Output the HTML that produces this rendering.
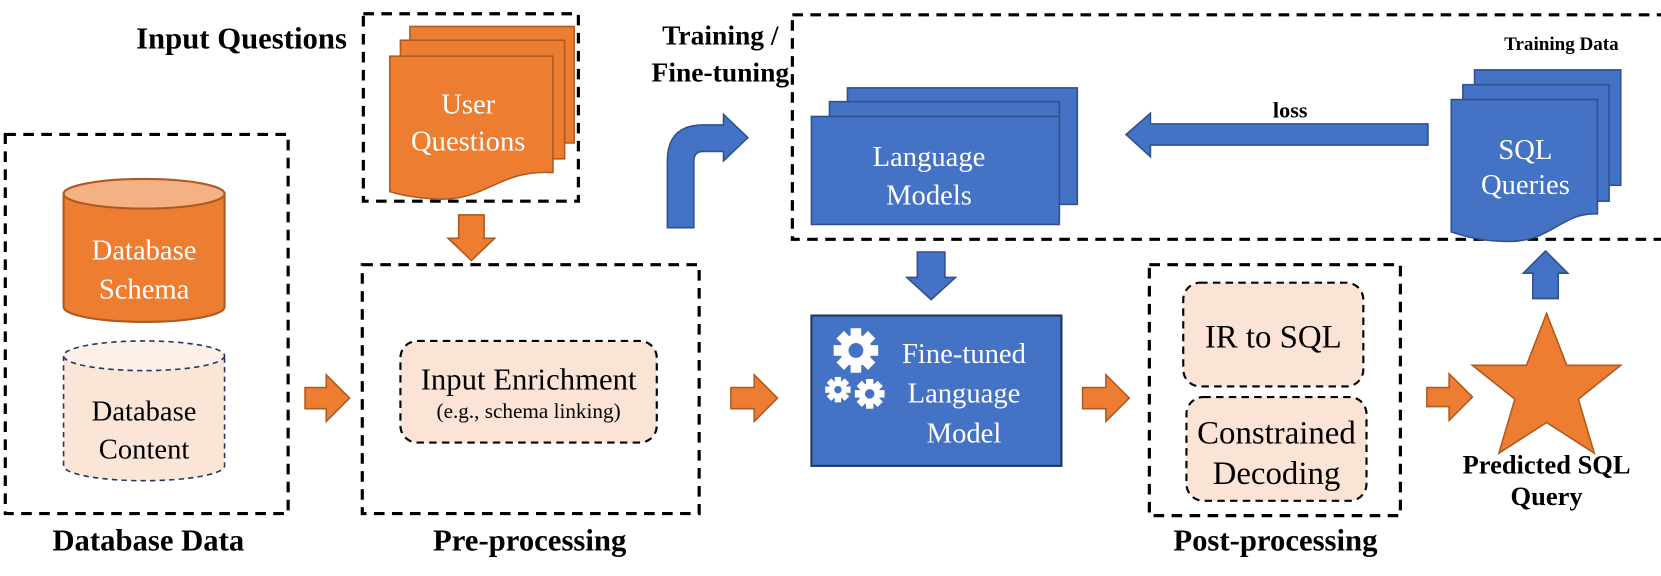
<!DOCTYPE html>
<html><head><meta charset="utf-8"><style>
html,body{margin:0;padding:0;background:#fff;}
svg{display:block;}
text{font-family:"Liberation Serif",serif;}
.b{font-weight:bold;fill:#000;}
.w{fill:#fff;}
</style></head><body>
<svg width="1661" height="576" viewBox="0 0 1568 544" preserveAspectRatio="none" xmlns="http://www.w3.org/2000/svg">
<g fill="none" stroke="#000" stroke-width="3" stroke-dasharray="10,7">
<rect x="5" y="127" width="267" height="358"/>
<rect x="343" y="13" width="203" height="177"/>
<rect x="342" y="250" width="318" height="235"/>
<rect x="748" y="14" width="909" height="212"/>
<rect x="1085" y="250" width="237" height="237"/>
</g>
<!-- labels -->
<text class="b" x="140" y="520" font-size="29" text-anchor="middle">Database Data</text>
<text class="b" x="500" y="520" font-size="29" text-anchor="middle">Pre-processing</text>
<text class="b" x="1204" y="520" font-size="29" text-anchor="middle">Post-processing</text>
<text class="b" x="228" y="46" font-size="29" text-anchor="middle">Input Questions</text>
<text class="b" x="680" y="42" font-size="26" text-anchor="middle">Training /</text>
<text class="b" x="680" y="77" font-size="26" text-anchor="middle">Fine-tuning</text>
<text class="b" x="1474" y="47" font-size="18" text-anchor="middle">Training Data</text>
<text class="b" x="1460" y="447" font-size="25" text-anchor="middle">Predicted SQL</text>
<text class="b" x="1460" y="477" font-size="25" text-anchor="middle">Query</text>
<!-- schema cylinder -->
<path d="M60,183 V290 A76,14 0 0 0 212,290 V183 Z" fill="#ed7d31" stroke="#ae5a21" stroke-width="2"/>
<ellipse cx="136" cy="183" rx="76" ry="14" fill="#f4b183" stroke="#ae5a21" stroke-width="2"/>
<text class="w" x="136" y="245" font-size="27" text-anchor="middle">Database</text>
<text class="w" x="136" y="282" font-size="27" text-anchor="middle">Schema</text>
<!-- content cylinder -->
<path d="M60,336 V440 A76,14 0 0 0 212,440 V336 Z" fill="#fbe5d6" stroke="#203864" stroke-width="1.5" stroke-dasharray="5,4"/>
<ellipse cx="136" cy="336" rx="76" ry="14" fill="#fdf0e8" stroke="#203864" stroke-width="1.5" stroke-dasharray="5,4"/>
<text x="136" y="397" font-size="27" text-anchor="middle">Database</text>
<text x="136" y="433" font-size="27" text-anchor="middle">Content</text>
<!-- orange shapes -->
<g fill="#ed7d31" stroke="#ae5a21" stroke-width="1.5">
<path d="M288,366 H308 V354 L330,376 L308,398 V386 H288 Z"/>
<path d="M690,366 H712 V354 L734,376 L712,398 V386 H690 Z"/>
<path d="M1022,366 H1044 V354 L1066,376 L1044,398 V386 H1022 Z"/>
<path d="M1347,366 H1368 V353 L1390,375 L1368,397 V384 H1347 Z"/>
<path d="M433,203 H457 V225 H467 L445,246 L423,225 H433 Z"/>
<rect x="387" y="25" width="155" height="110"/>
<rect x="378" y="38" width="155" height="112"/>
<path d="M368,53 H522 V163 C470,160 460,190 412,188 C392,187 378,184 368,181 Z"/>
<path d="M1460,296 L1479,345 L1530,345 L1490,377 L1505,428 L1460,399 L1415,428 L1430,377 L1390,345 L1441,345 Z"/>
</g>
<text class="w" x="442" y="107" font-size="27" text-anchor="middle">User</text>
<text class="w" x="442" y="142" font-size="27" text-anchor="middle">Questions</text>
<!-- input enrichment -->
<rect x="378" y="322" width="242" height="96" rx="16" fill="#fbe3d6" stroke="#000" stroke-width="2" stroke-dasharray="7,5"/>
<text x="499" y="368" font-size="29" text-anchor="middle">Input Enrichment</text>
<text x="499" y="395" font-size="20" text-anchor="middle">(e.g., schema linking)</text>
<!-- post boxes -->
<rect x="1117" y="267" width="170" height="98" rx="16" fill="#fbe3d6" stroke="#000" stroke-width="2" stroke-dasharray="7,5"/>
<rect x="1120" y="375" width="170" height="98" rx="16" fill="#fbe3d6" stroke="#000" stroke-width="2" stroke-dasharray="7,5"/>
<text x="1202" y="328" font-size="31" text-anchor="middle">IR to SQL</text>
<text x="1205" y="419" font-size="31" text-anchor="middle">Constrained</text>
<text x="1205" y="457" font-size="31" text-anchor="middle">Decoding</text>
<!-- blue shapes -->
<g fill="#4472c4" stroke="#2f528f" stroke-width="1.5">
<path d="M630,215 V152 Q630,118 664,118 H683 V108 L706,130 L683,152 V143 H664 Q655,143 655,152 V215 Z"/>
<rect x="800" y="83" width="217" height="110"/>
<rect x="783" y="96" width="217" height="110"/>
<rect x="766" y="110" width="234" height="102"/>
<path d="M1348,117 H1086 V107 L1063,127 L1086,148 V137 H1348 Z"/>
<rect x="1392" y="66" width="138" height="109"/>
<rect x="1381" y="80" width="138" height="110"/>
<path d="M1370,94 H1508 V202 C1475,200 1465,228 1425,228 C1400,228 1385,224 1370,219 Z"/>
<path d="M866,238 H892 V262 H902 L879,283 L856,262 H866 Z"/>
<path d="M1447,282 H1471 V258 H1480 L1459,237 L1438,258 H1447 Z"/>
<rect x="766" y="298" width="236" height="142" stroke="#203864" stroke-width="2"/>
</g>
<text class="b" x="1218" y="111" font-size="21" text-anchor="middle">loss</text>
<text class="w" x="877" y="157" font-size="27" text-anchor="middle">Language</text>
<text class="w" x="877" y="193" font-size="27" text-anchor="middle">Models</text>
<text class="w" x="1440" y="150" font-size="27" text-anchor="middle">SQL</text>
<text class="w" x="1440" y="183" font-size="27" text-anchor="middle">Queries</text>
<text class="w" x="910" y="343" font-size="27" text-anchor="middle">Fine-tuned</text>
<text class="w" x="910" y="380" font-size="27" text-anchor="middle">Language</text>
<text class="w" x="910" y="418" font-size="27" text-anchor="middle">Model</text>
<!-- gears -->
<g fill="#fff">
<g transform="translate(808,331)">
<circle r="15"/>
<rect x="-5" y="-21" width="10" height="42"/><rect x="-5" y="-21" width="10" height="42" transform="rotate(45)"/><rect x="-5" y="-21" width="10" height="42" transform="rotate(90)"/><rect x="-5" y="-21" width="10" height="42" transform="rotate(135)"/>
<circle r="7" fill="#4472c4"/>
</g>
<g transform="translate(791,368)">
<circle r="8"/>
<rect x="-3" y="-12" width="6" height="24"/><rect x="-3" y="-12" width="6" height="24" transform="rotate(45)"/><rect x="-3" y="-12" width="6" height="24" transform="rotate(90)"/><rect x="-3" y="-12" width="6" height="24" transform="rotate(135)"/>
<circle r="3.5" fill="#4472c4"/>
</g>
<g transform="translate(821,372)">
<circle r="10"/>
<rect x="-3.5" y="-14" width="7" height="28"/><rect x="-3.5" y="-14" width="7" height="28" transform="rotate(45)"/><rect x="-3.5" y="-14" width="7" height="28" transform="rotate(90)"/><rect x="-3.5" y="-14" width="7" height="28" transform="rotate(135)"/>
<circle r="4.5" fill="#4472c4"/>
</g>
</g>
</svg>
</body></html>
